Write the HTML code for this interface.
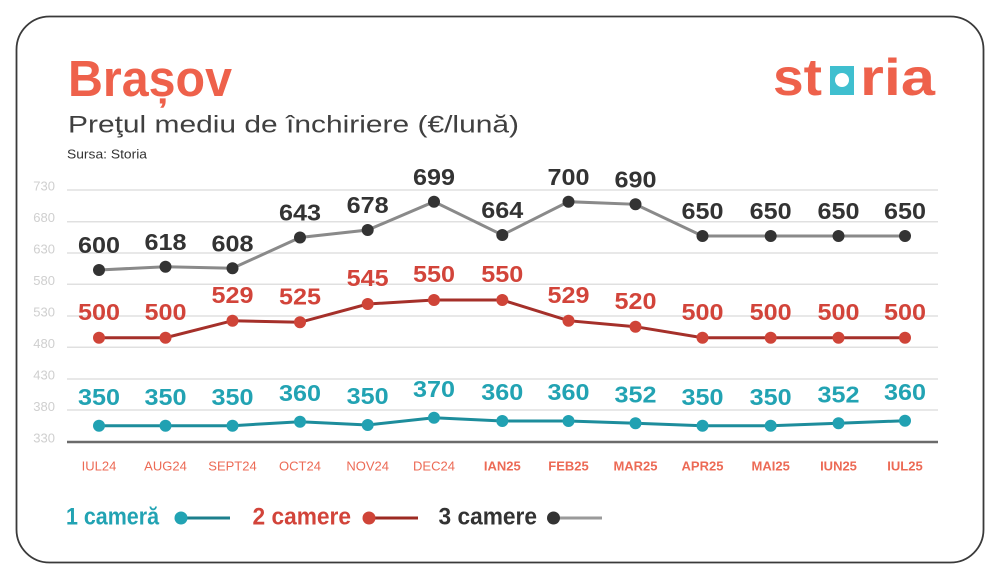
<!DOCTYPE html>
<html><head><meta charset="utf-8">
<style>
html,body{margin:0;padding:0;background:#fff;}
svg{display:block;}
text{font-family:"Liberation Sans",sans-serif;}
</style></head>
<body>
<svg width="1000" height="579" viewBox="0 0 1000 579" xmlns="http://www.w3.org/2000/svg">
<rect x="0" y="0" width="1000" height="579" fill="#fff"/>
<rect x="16.5" y="16.5" width="967" height="546" rx="33" ry="33" fill="#fff" stroke="#3a3a3a" stroke-width="1.8"/>

<!-- Title -->
<text x="68" y="96" font-size="51" font-weight="bold" fill="#ee614b" textLength="164" lengthAdjust="spacingAndGlyphs">Brașov</text>
<text x="68" y="132.7" font-size="24.5" fill="#404040" textLength="451" lengthAdjust="spacingAndGlyphs">Preţul mediu de închiriere (€/lună)</text>
<text x="67" y="158.5" font-size="12.5" fill="#333" textLength="80" lengthAdjust="spacingAndGlyphs">Sursa: Storia</text>

<!-- Logo -->
<text x="773" y="95" font-size="52" font-weight="bold" fill="#ee614b" textLength="49" lengthAdjust="spacingAndGlyphs">st</text>
<rect x="830" y="66" width="24" height="29" fill="#3fbfcf"/>
<circle cx="842" cy="80" r="7" fill="#fff"/>
<text x="860" y="95" font-size="52" font-weight="bold" fill="#ee614b" textLength="75" lengthAdjust="spacingAndGlyphs">ria</text>

<!-- Grid -->
<g stroke="#e0e0e0" stroke-width="1.5">
<line x1="67" y1="190" x2="938" y2="190"/>
<line x1="67" y1="221.7" x2="938" y2="221.7"/>
<line x1="67" y1="253" x2="938" y2="253"/>
<line x1="67" y1="284.3" x2="938" y2="284.3"/>
<line x1="67" y1="316" x2="938" y2="316"/>
<line x1="67" y1="347.3" x2="938" y2="347.3"/>
<line x1="67" y1="379" x2="938" y2="379"/>
<line x1="67" y1="410" x2="938" y2="410"/>
</g>
<line x1="67" y1="442" x2="938" y2="442" stroke="#6b6b6b" stroke-width="2.5"/>

<g font-size="13" fill="#cfcfcf" text-anchor="end">
<text x="55" y="190.5">730</text>
<text x="55" y="222">680</text>
<text x="55" y="253.5">630</text>
<text x="55" y="285">580</text>
<text x="55" y="316.5">530</text>
<text x="55" y="348">480</text>
<text x="55" y="379.5">430</text>
<text x="55" y="411">380</text>
<text x="55" y="442.5">330</text>
</g>

<!-- X labels -->
<g font-size="13" fill="#ec6a55" text-anchor="middle">
<text x="99" y="470.5">IUL24</text>
<text x="165.5" y="470.5">AUG24</text>
<text x="232.5" y="470.5">SEPT24</text>
<text x="300" y="470.5">OCT24</text>
<text x="367.7" y="470.5">NOV24</text>
<text x="434" y="470.5">DEC24</text>
<g font-weight="bold">
<text x="502.3" y="470.5">IAN25</text>
<text x="568.5" y="470.5">FEB25</text>
<text x="635.5" y="470.5">MAR25</text>
<text x="702.5" y="470.5">APR25</text>
<text x="770.7" y="470.5">MAI25</text>
<text x="838.5" y="470.5">IUN25</text>
<text x="905" y="470.5">IUL25</text>
</g>
</g>

<!-- Series lines -->
<polyline fill="none" stroke="#8a8a8a" stroke-width="3" points="99,270 165.5,266.7 232.5,268.3 300,237.5 367.7,230 434,201.7 502.3,235 568.5,201.7 635.5,204.3 702.5,236 770.7,236 838.5,236 905,236"/>
<polyline fill="none" stroke="#a5302a" stroke-width="3" points="99,337.7 165.5,337.7 232.5,320.7 300,322.3 367.7,304 434,300 502.3,300 568.5,320.7 635.5,326.7 702.5,337.7 770.7,337.7 838.5,337.7 905,337.7"/>
<polyline fill="none" stroke="#1d8d9c" stroke-width="3" points="99,425.7 165.5,425.7 232.5,425.7 300,421.7 367.7,425 434,417.7 502.3,421 568.5,421 635.5,423.3 702.5,425.7 770.7,425.7 838.5,423.3 905,420.7"/>

<!-- Points -->
<g fill="#333">
<circle cx="99" cy="270" r="6"/><circle cx="165.5" cy="266.7" r="6"/><circle cx="232.5" cy="268.3" r="6"/><circle cx="300" cy="237.5" r="6"/><circle cx="367.7" cy="230" r="6"/><circle cx="434" cy="201.7" r="6"/><circle cx="502.3" cy="235" r="6"/><circle cx="568.5" cy="201.7" r="6"/><circle cx="635.5" cy="204.3" r="6"/><circle cx="702.5" cy="236" r="6"/><circle cx="770.7" cy="236" r="6"/><circle cx="838.5" cy="236" r="6"/><circle cx="905" cy="236" r="6"/>
</g>
<g fill="#cf4438">
<circle cx="99" cy="337.7" r="6"/><circle cx="165.5" cy="337.7" r="6"/><circle cx="232.5" cy="320.7" r="6"/><circle cx="300" cy="322.3" r="6"/><circle cx="367.7" cy="304" r="6"/><circle cx="434" cy="300" r="6"/><circle cx="502.3" cy="300" r="6"/><circle cx="568.5" cy="320.7" r="6"/><circle cx="635.5" cy="326.7" r="6"/><circle cx="702.5" cy="337.7" r="6"/><circle cx="770.7" cy="337.7" r="6"/><circle cx="838.5" cy="337.7" r="6"/><circle cx="905" cy="337.7" r="6"/>
</g>
<g fill="#21a1b2">
<circle cx="99" cy="425.7" r="6"/><circle cx="165.5" cy="425.7" r="6"/><circle cx="232.5" cy="425.7" r="6"/><circle cx="300" cy="421.7" r="6"/><circle cx="367.7" cy="425" r="6"/><circle cx="434" cy="417.7" r="6"/><circle cx="502.3" cy="421" r="6"/><circle cx="568.5" cy="421" r="6"/><circle cx="635.5" cy="423.3" r="6"/><circle cx="702.5" cy="425.7" r="6"/><circle cx="770.7" cy="425.7" r="6"/><circle cx="838.5" cy="423.3" r="6"/><circle cx="905" cy="420.7" r="6"/>
</g>

<!-- Data labels -->
<g font-size="23" font-weight="bold" fill="#333" text-anchor="middle">
<text x="99" y="253.2" textLength="42" lengthAdjust="spacingAndGlyphs">600</text>
<text x="165.5" y="249.9" textLength="42" lengthAdjust="spacingAndGlyphs">618</text>
<text x="232.5" y="251.5" textLength="42" lengthAdjust="spacingAndGlyphs">608</text>
<text x="300" y="220.7" textLength="42" lengthAdjust="spacingAndGlyphs">643</text>
<text x="367.7" y="213.2" textLength="42" lengthAdjust="spacingAndGlyphs">678</text>
<text x="434" y="184.9" textLength="42" lengthAdjust="spacingAndGlyphs">699</text>
<text x="502.3" y="218.2" textLength="42" lengthAdjust="spacingAndGlyphs">664</text>
<text x="568.5" y="184.9" textLength="42" lengthAdjust="spacingAndGlyphs">700</text>
<text x="635.5" y="187.5" textLength="42" lengthAdjust="spacingAndGlyphs">690</text>
<text x="702.5" y="219.2" textLength="42" lengthAdjust="spacingAndGlyphs">650</text>
<text x="770.7" y="219.2" textLength="42" lengthAdjust="spacingAndGlyphs">650</text>
<text x="838.5" y="219.2" textLength="42" lengthAdjust="spacingAndGlyphs">650</text>
<text x="905" y="219.2" textLength="42" lengthAdjust="spacingAndGlyphs">650</text>
</g>
<g font-size="23" font-weight="bold" fill="#d2443a" text-anchor="middle">
<text x="99" y="319.9" textLength="42" lengthAdjust="spacingAndGlyphs">500</text>
<text x="165.5" y="319.9" textLength="42" lengthAdjust="spacingAndGlyphs">500</text>
<text x="232.5" y="302.9" textLength="42" lengthAdjust="spacingAndGlyphs">529</text>
<text x="300" y="304.5" textLength="42" lengthAdjust="spacingAndGlyphs">525</text>
<text x="367.7" y="286.2" textLength="42" lengthAdjust="spacingAndGlyphs">545</text>
<text x="434" y="282.2" textLength="42" lengthAdjust="spacingAndGlyphs">550</text>
<text x="502.3" y="282.2" textLength="42" lengthAdjust="spacingAndGlyphs">550</text>
<text x="568.5" y="302.9" textLength="42" lengthAdjust="spacingAndGlyphs">529</text>
<text x="635.5" y="308.9" textLength="42" lengthAdjust="spacingAndGlyphs">520</text>
<text x="702.5" y="319.9" textLength="42" lengthAdjust="spacingAndGlyphs">500</text>
<text x="770.7" y="319.9" textLength="42" lengthAdjust="spacingAndGlyphs">500</text>
<text x="838.5" y="319.9" textLength="42" lengthAdjust="spacingAndGlyphs">500</text>
<text x="905" y="319.9" textLength="42" lengthAdjust="spacingAndGlyphs">500</text>
</g>
<g font-size="23" font-weight="bold" fill="#22a3b3" text-anchor="middle">
<text x="99" y="404.9" textLength="42" lengthAdjust="spacingAndGlyphs">350</text>
<text x="165.5" y="404.9" textLength="42" lengthAdjust="spacingAndGlyphs">350</text>
<text x="232.5" y="404.9" textLength="42" lengthAdjust="spacingAndGlyphs">350</text>
<text x="300" y="400.9" textLength="42" lengthAdjust="spacingAndGlyphs">360</text>
<text x="367.7" y="404.2" textLength="42" lengthAdjust="spacingAndGlyphs">350</text>
<text x="434" y="396.9" textLength="42" lengthAdjust="spacingAndGlyphs">370</text>
<text x="502.3" y="400.2" textLength="42" lengthAdjust="spacingAndGlyphs">360</text>
<text x="568.5" y="400.2" textLength="42" lengthAdjust="spacingAndGlyphs">360</text>
<text x="635.5" y="402.5" textLength="42" lengthAdjust="spacingAndGlyphs">352</text>
<text x="702.5" y="404.9" textLength="42" lengthAdjust="spacingAndGlyphs">350</text>
<text x="770.7" y="404.9" textLength="42" lengthAdjust="spacingAndGlyphs">350</text>
<text x="838.5" y="402.5" textLength="42" lengthAdjust="spacingAndGlyphs">352</text>
<text x="905" y="399.9" textLength="42" lengthAdjust="spacingAndGlyphs">360</text>
</g>

<!-- Legend -->
<text x="66" y="524.5" font-size="24" font-weight="bold" fill="#22a3b3" textLength="93" lengthAdjust="spacingAndGlyphs">1 cameră</text>
<line x1="181" y1="518" x2="230" y2="518" stroke="#1c7f8c" stroke-width="3"/>
<circle cx="181" cy="518" r="6.5" fill="#22a3b3"/>

<text x="252.5" y="524.5" font-size="24" font-weight="bold" fill="#d2443a" textLength="98.5" lengthAdjust="spacingAndGlyphs">2 camere</text>
<line x1="369" y1="518" x2="418" y2="518" stroke="#9c2a22" stroke-width="3"/>
<circle cx="369" cy="518" r="6.5" fill="#cf4438"/>

<text x="438.5" y="524.5" font-size="24" font-weight="bold" fill="#333" textLength="98.5" lengthAdjust="spacingAndGlyphs">3 camere</text>
<line x1="553.5" y1="518" x2="602" y2="518" stroke="#9a9a9a" stroke-width="3"/>
<circle cx="553.5" cy="518" r="6.5" fill="#333"/>
</svg>
</body></html>
